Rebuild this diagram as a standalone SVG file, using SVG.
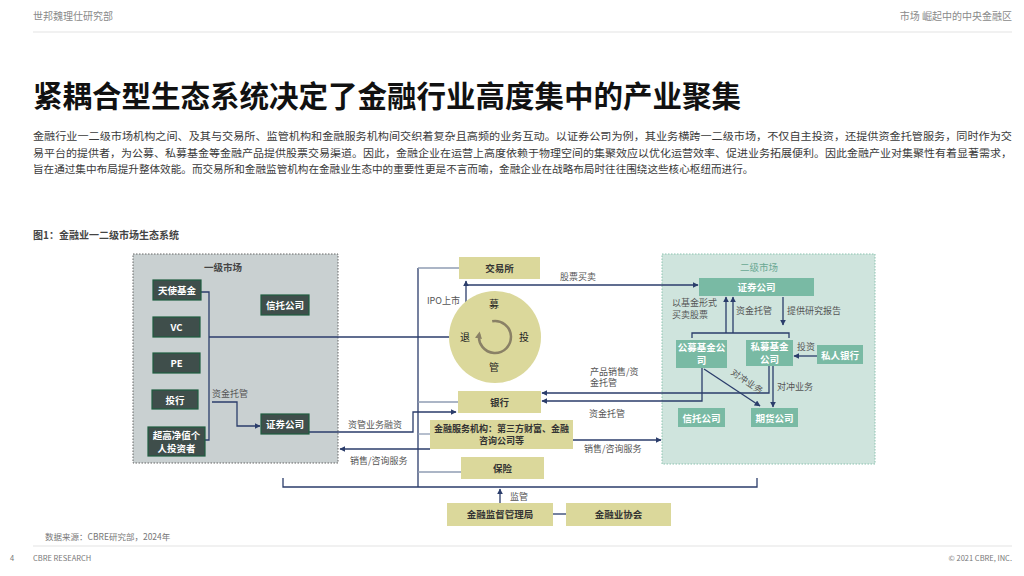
<svg xmlns="http://www.w3.org/2000/svg" width="1024" height="576" viewBox="0 0 1024 576">
<defs>
<style>
text{font-family:"Noto Sans CJK SC","Noto Sans",sans-serif;}
.hdr{font-size:10px;fill:#8a8a8a;}
.para{font-size:10.6px;fill:#3a3a3a;}
.lbl{font-size:9px;fill:#555;}
.dk rect{fill:#3f4e4b;stroke:#1f5e40;stroke-width:1.2;}
.dk text{font-size:9.5px;fill:#fff;font-weight:bold;text-anchor:middle;}
.kh rect{fill:#dbd89b;}
.kh text{font-size:9.5px;fill:#333;font-weight:bold;text-anchor:middle;}
.tl rect{fill:#79baa4;}
.tl text{font-size:9.5px;fill:#fff;font-weight:bold;text-anchor:middle;}
.ln{fill:none;stroke:#2b3d6b;stroke-width:1.3;}
.lt{fill:none;stroke:#8f9db3;stroke-width:1.3;}
.ar{marker-end:url(#ah);}
</style>
<marker id="ah" viewBox="0 0 10 10" refX="9" refY="5" markerWidth="6" markerHeight="6" orient="auto" markerUnits="userSpaceOnUse"><path d="M0,0 L10,5 L0,10 z" fill="#2b3d6b"/></marker>
<marker id="ah2" viewBox="0 0 10 10" refX="6" refY="5" markerWidth="7" markerHeight="7" orient="auto" markerUnits="userSpaceOnUse"><path d="M0,0 L10,5 L0,10 z" fill="#8a8166"/></marker>
</defs>
<rect width="1024" height="576" fill="#fff"/>

<!-- header -->
<text class="hdr" x="33" y="20">世邦魏理仕研究部</text>
<text class="hdr" x="1012" y="20" text-anchor="end">市场   崛起中的中央金融区</text>
<line x1="33" y1="32" x2="1012" y2="32" stroke="#e3e3e3" stroke-width="1"/>

<text x="33" y="107" font-size="29.5" fill="#111" font-weight="bold">紧耦合型生态系统决定了金融行业高度集中的产业聚集</text>

<text class="para" x="33" y="140" textLength="979" lengthAdjust="spacingAndGlyphs">金融行业一二级市场机构之间、及其与交易所、监管机构和金融服务机构间交织着复杂且高频的业务互动。以证券公司为例，其业务横跨一二级市场，不仅自主投资，还提供资金托管服务，同时作为交</text>
<text class="para" x="33" y="157" textLength="979" lengthAdjust="spacingAndGlyphs">易平台的提供者，为公募、私募基金等金融产品提供股票交易渠道。因此，金融企业在运营上高度依赖于物理空间的集聚效应以优化运营效率、促进业务拓展便利。因此金融产业对集聚性有着显著需求，</text>
<text class="para" x="33" y="173">旨在通过集中布局提升整体效能。而交易所和金融监管机构在金融业生态中的重要性更是不言而喻，金融企业在战略布局时往往围绕这些核心枢纽而进行。</text>

<text x="33" y="239" font-size="10" font-weight="bold" fill="#444">图1：金融业一二级市场生态系统</text>

<!-- panels -->
<g id="panel-primary">
<rect x="133" y="254" width="205" height="209" fill="#c9d0d1" stroke="#666" stroke-width="1" stroke-dasharray="1.5,1.5"/>
<text x="223" y="271" font-size="9.5" fill="#444" text-anchor="middle" font-weight="bold">一级市场</text>
</g>
<g id="panel-secondary">
<rect x="662" y="254" width="213" height="210" fill="#cfe4dd" stroke="#8cc3b0" stroke-width="1" stroke-dasharray="1.5,1.5"/>
<text x="759" y="271" font-size="9.5" fill="#6aa893" text-anchor="middle">二级市场</text>
</g>

<!-- connectors -->
<g id="connectors">
<path class="ln" d="M201,292 H209 V440 H205"/>
<path class="ln" d="M209,337 H462"/>
<path class="ln ar" d="M212,402 H237 V426 H260"/>
<path class="ln ar" d="M309,432 H413 V412 H456"/>
<path class="ln ar" d="M430,449 H340"/>
<path class="ln" d="M418,268 V487"/>
<path class="lt" d="M418,268 H459"/>
<path class="lt" d="M418,402 H458"/>
<path class="lt" d="M418,434 H430"/>
<path class="lt" d="M418,472 H461"/>
<path class="ln" d="M283,478 V487 H757 V478"/>
<path class="ln ar" d="M500,503 V489"/>
<path class="ln" d="M553,514 H566"/>
<path class="ln ar" d="M466,333 V281"/>
<path class="ln ar" d="M466,285 H698"/>
<path class="ln ar" d="M573,440 H661"/>
<path class="ln ar" d="M769,366 V393 H542"/>
<path class="ln ar" d="M702,368 V401 H542"/>
<path class="ln" d="M692,338 V333 H789 V338"/>
<path class="ln ar" d="M726,333 V297"/>
<path class="ln ar" d="M733,333 V297"/>
<path class="ln ar" d="M783,297 V325"/>
<path class="ln ar" d="M817,356 H794"/>
<path class="ln ar" d="M704,369 L760,406"/>
<path class="ln ar" d="M773,366 V407"/>
</g>

<!-- labels on connectors -->
<text class="lbl" x="212" y="397">资金托管</text>
<text class="lbl" x="348" y="428">资管业务融资</text>
<text class="lbl" x="350" y="464">销售/咨询服务</text>
<text class="lbl" x="460" y="304" text-anchor="end">IPO上市</text>
<text class="lbl" x="560" y="280">股票买卖</text>
<text class="lbl" x="590" y="375">产品销售/资</text>
<text class="lbl" x="590" y="386">金托管</text>
<text class="lbl" x="589" y="417">资金托管</text>
<text class="lbl" x="584" y="452">销售/咨询服务</text>
<text class="lbl" x="510" y="500">监管</text>
<text class="lbl" x="672" y="306">以基金形式</text>
<text class="lbl" x="672" y="318">买卖股票</text>
<text class="lbl" x="736" y="314">资金托管</text>
<text class="lbl" x="787" y="314">提供研究报告</text>
<text class="lbl" x="797" y="350">投资</text>
<text class="lbl" x="727" y="381" transform="rotate(34 740 383)">对冲业务</text>
<text class="lbl" x="777" y="390">对冲业务</text>

<!-- primary market nodes -->
<g id="n-angel" class="dk"><rect x="153" y="280" width="48" height="20"/><text x="177" y="294">天使基金</text></g>
<g id="n-vc" class="dk"><rect x="153" y="317" width="47" height="20"/><text x="176.5" y="331">VC</text></g>
<g id="n-pe" class="dk"><rect x="153" y="353" width="47" height="20"/><text x="176.5" y="367">PE</text></g>
<g id="n-ib" class="dk"><rect x="152" y="390" width="46" height="19"/><text x="175" y="403.5">投行</text></g>
<g id="n-hnw" class="dk"><rect x="148" y="427" width="57" height="29"/><text x="176.5" y="439">超高净值个</text><text x="176.5" y="451.5">人投资者</text></g>
<g id="n-trust1" class="dk"><rect x="261" y="295" width="48" height="20"/><text x="285" y="309">信托公司</text></g>
<g id="n-sec1" class="dk"><rect x="261" y="414" width="48" height="20"/><text x="285" y="428">证券公司</text></g>

<!-- center nodes -->
<g id="n-exchange" class="kh"><rect x="459" y="257" width="81" height="22"/><text x="499.5" y="272">交易所</text></g>
<g id="n-cycle">
<circle cx="495" cy="337" r="46" fill="#dbd89b"/>
<path d="M492.2,321.2 A16,16 0 1 1 479.2,334.2" fill="none" stroke="#8a8166" stroke-width="2.5" marker-end="url(#ah2)"/>
<text x="494" y="308" font-size="10" fill="#222" text-anchor="middle">募</text>
<text x="524" y="341" font-size="10" fill="#222" text-anchor="middle">投</text>
<text x="494" y="371" font-size="10" fill="#222" text-anchor="middle">管</text>
<text x="465" y="341" font-size="10" fill="#222" text-anchor="middle">退</text>
</g>
<g id="n-bank" class="kh"><rect x="458" y="391" width="83" height="22"/><text x="499.5" y="406">银行</text></g>
<g id="n-fsi" class="kh"><rect x="430" y="420" width="143" height="29"/><text x="501.5" y="432" style="font-size:9px">金融服务机构：第三方财富、金融</text><text x="501.5" y="444" style="font-size:9px">咨询公司等</text></g>
<g id="n-ins" class="kh"><rect x="461" y="457" width="83" height="22"/><text x="502.5" y="472">保险</text></g>
<g id="n-reg" class="kh"><rect x="447" y="503" width="106" height="23"/><text x="500" y="518">金融监督管理局</text></g>
<g id="n-assoc" class="kh"><rect x="566" y="503" width="105" height="23"/><text x="618.5" y="518">金融业协会</text></g>

<!-- secondary market nodes -->
<g id="n-sec2" class="tl"><rect x="699" y="278" width="115" height="18"/><text x="756.5" y="291">证券公司</text></g>
<g id="n-pub" class="tl"><rect x="676" y="340" width="51" height="28"/><text x="701.5" y="350.5">公募基金公</text><text x="701.5" y="363.5">司</text></g>
<g id="n-pri" class="tl"><rect x="746" y="340" width="47" height="26"/><text x="769.5" y="350">私募基金</text><text x="769.5" y="362.5">公司</text></g>
<g id="n-pb" class="tl"><rect x="817" y="345" width="46" height="19"/><text x="840" y="358.5">私人银行</text></g>
<g id="n-trust2" class="tl"><rect x="678" y="408" width="47" height="19"/><text x="701.5" y="421.5">信托公司</text></g>
<g id="n-fut" class="tl"><rect x="751" y="408" width="47" height="19"/><text x="774.5" y="421.5">期货公司</text></g>

<!-- footer -->
<text x="45" y="540" font-size="8.5" fill="#777">数据来源：CBRE研究部，2024年</text>
<line x1="33" y1="546" x2="1012" y2="546" stroke="#e3e3e3" stroke-width="1"/>
<text x="10" y="561" font-size="7.5" fill="#777">4</text>
<text x="33" y="561" font-size="7.5" fill="#777">CBRE RESEARCH</text>
<text x="1012" y="561" font-size="7.5" fill="#777" text-anchor="end">© 2021 CBRE, INC.</text>
</svg>
